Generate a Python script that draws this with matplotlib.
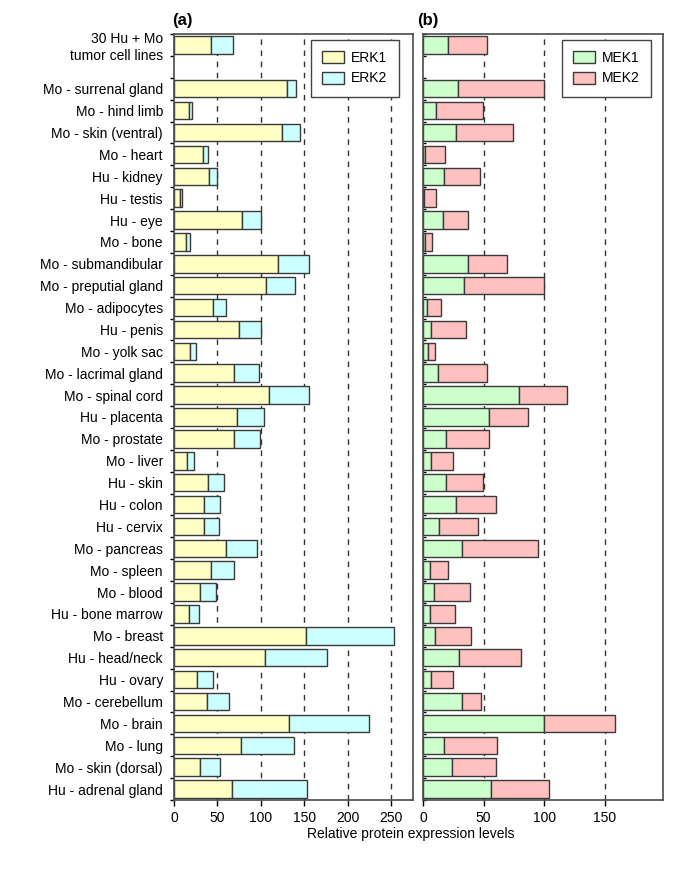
import numpy as np
import matplotlib.pyplot as plt

plt.rcParams['font.family'] = ['Liberation Sans', 'DejaVu Sans']

# categories, top to bottom (first one is separated by an empty row)
labels = ['30 Hu + Mo\ntumor cell lines',
          'Mo - surrenal gland', 'Mo - hind limb', 'Mo - skin (ventral)', 'Mo - heart',
          'Hu - kidney', 'Hu - testis', 'Hu - eye', 'Mo - bone', 'Mo - submandibular',
          'Mo - preputial gland', 'Mo - adipocytes', 'Hu - penis', 'Mo - yolk sac',
          'Mo - lacrimal gland', 'Mo - spinal cord', 'Hu - placenta', 'Mo - prostate',
          'Mo - liver', 'Hu - skin', 'Hu - colon', 'Hu - cervix', 'Mo - pancreas',
          'Mo - spleen', 'Mo - blood', 'Hu - bone marrow', 'Mo - breast',
          'Hu - head/neck', 'Hu - ovary', 'Mo - cerebellum', 'Mo - brain', 'Mo - lung',
          'Mo - skin (dorsal)', 'Hu - adrenal gland']

erk1 = [43, 130, 17.5, 124, 33, 40, 6.5, 78, 14, 120,
        106, 44.5, 75, 18.5, 69, 109, 73, 69, 15.5, 39,
        35, 34.5, 60, 42.5, 30, 17.5, 152, 105, 26.5, 37.5,
        132, 77.5, 29.5, 66.5]
erk2 = [25, 10, 3, 21, 6.5, 9, 2.3, 22, 4.5, 35,
        33, 15, 25, 7, 29, 46, 31, 30, 7.5, 19,
        17.5, 17.5, 35.5, 26, 18.5, 11, 101, 71, 18.5, 26,
        92.5, 61, 23.5, 86]

mek1 = [20.5, 28.5, 10.5, 27.5, 2, 17, 0.5, 16.5, 2, 37,
        33.5, 3, 7, 4.5, 12.5, 79.5, 54.5, 19, 7, 19,
        27, 13.5, 32, 6, 9, 5.5, 10, 29.5, 6.5, 32.5,
        99.5, 17.5, 24, 56]
mek2 = [32, 71, 39, 46.5, 16, 30, 10, 20.5, 5.5, 32,
        66.5, 12, 28.5, 5, 40, 39.5, 32, 35.5, 18, 30.5,
        33, 32, 62.5, 15, 29.5, 21, 30, 51.5, 18.5, 15,
        59, 43.5, 36.5, 48]

ypos = np.array([0] + list(range(2, 35)))

fig = plt.figure(figsize=(6.85, 8.72), dpi=100)
axa = fig.add_axes([0.254, 0.0826, 0.349, 0.8784])
axb = fig.add_axes([0.6175, 0.0826, 0.3505, 0.8784])

edge = '#3a3a3a'
h = 0.8

def style(ax, xmax, grid_x, ticks):
    ax.set_xlim(0, xmax)
    ax.set_ylim(34.5, -0.5)
    for g in grid_x:
        ax.axvline(g, color='#333333', lw=1, ls=(0, (4, 4)), zorder=0)
    ax.set_xticks(ticks)
    ax.tick_params(axis='x', direction='out', length=4, labelsize=10, width=1, pad=4)
    ax.set_yticks(np.arange(-0.5, 35, 1), minor=True)
    ax.tick_params(axis='y', which='major', length=0)
    for s in ax.spines.values():
        s.set_color('#4a4a4a')
        s.set_linewidth(1.2)

def add_legend(ax, x0):
    ax.legend(loc='upper left', bbox_to_anchor=(x0, 0.992), borderaxespad=0,
              fontsize=10, fancybox=False, edgecolor='#444444', framealpha=1,
              handlelength=1.6, handleheight=0.95, handletextpad=0.5,
              borderpad=0.8, labelspacing=0.45)

# (a) ERK
axa.barh(ypos, erk1, height=h, color='#ffffc4', edgecolor=edge, lw=1, label='ERK1', zorder=2)
axa.barh(ypos, erk2, left=erk1, height=h, color='#ccffff', edgecolor=edge, lw=1, label='ERK2', zorder=2)
style(axa, 275, [50, 100, 150, 200, 250], [0, 50, 100, 150, 200, 250])
axa.tick_params(axis='y', which='minor', direction='out', length=3, width=1)
axa.set_yticks(ypos)
axa.set_yticklabels(labels, fontsize=10)
axa.tick_params(axis='y', which='major', pad=8)
add_legend(axa, 0.573)

# (b) MEK
axb.barh(ypos, mek1, height=h, color='#ccffcc', edgecolor=edge, lw=1, label='MEK1', zorder=2)
axb.barh(ypos, mek2, left=mek1, height=h, color='#ffc0c0', edgecolor=edge, lw=1, label='MEK2', zorder=2)
style(axb, 198, [50, 100, 150], [0, 50, 100, 150])
axb.tick_params(axis='y', which='minor', direction='in', length=2, width=1)
axb.set_yticks([])
add_legend(axb, 0.579)

fig.text(0.252, 0.977, '(a)', fontsize=12, fontweight='bold', va='center')
fig.text(0.609, 0.977, '(b)', fontsize=12, fontweight='bold', va='center')
fig.text(0.600, 0.039, 'Relative protein expression levels', fontsize=10, ha='center')

fig.savefig('out.png', dpi=100)
